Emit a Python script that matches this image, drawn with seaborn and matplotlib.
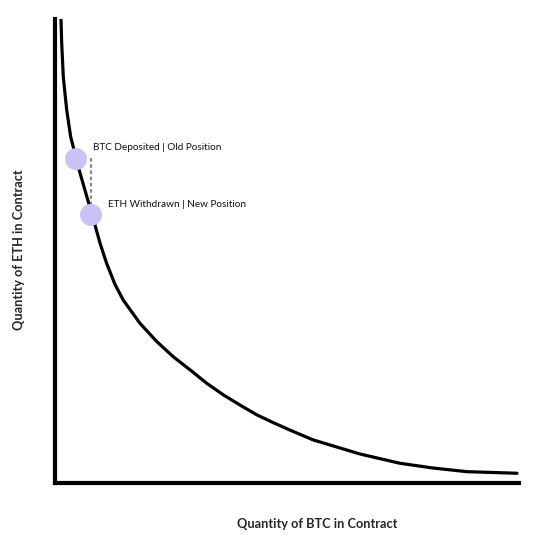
import numpy as np
import pandas as pd
import matplotlib.pyplot as plt
import seaborn as sns

# points (BTC qty, ETH qty), axes scaled 0-100
btc_qty = [1.29, 1.44, 1.79, 2.52, 3.38, 3.94, 4.53, 8.62, 9.70, 11.14, 12.93,
           14.72, 18.32, 21.92, 25.50, 29.09, 32.69, 36.27, 39.87, 43.47, 47.05,
           50.65, 55.60, 65.73, 74.35, 81.47, 88.79, 99.57]
eth_qty = [100.0, 94.8, 87.5, 80.4, 74.6, 72.4, 69.8, 55.6, 51.7, 47.3, 42.8,
           39.4, 34.4, 30.5, 27.2, 24.4, 21.5, 19.0, 16.8, 14.7, 13.0,
           11.4, 9.3, 6.25, 4.25, 3.23, 2.44, 2.1]

pos_labels = ["BTC Deposited | Old Position", "ETH Withdrawn | New Position"]
pos_btc = [4.53, 7.76]
pos_eth = [69.8, 57.8]

curve = pd.DataFrame({"btc": btc_qty, "eth": eth_qty})
pos = pd.DataFrame({"label": pos_labels, "btc": pos_btc, "eth": pos_eth})

sns.set_style("white")
plt.rcParams["font.family"] = ["Lato", "DejaVu Sans"]

fig = plt.figure(figsize=(5.41, 5.49), dpi=100)
ax = fig.add_axes([55 / 541, 1 - 483 / 549, 464 / 541, 464 / 549])

sns.lineplot(data=curve, x="btc", y="eth", ax=ax, color="black", linewidth=2.3,
             sort=False, zorder=2)
ax.plot([pos_btc[1] + 0.1] * 2, [pos_eth[0] + 0.3, pos_eth[1] + 1.5], color="#8a8a8a",
        linewidth=1.6, linestyle=(0, (1.6, 1.2)), zorder=1)
sns.scatterplot(data=pos, x="btc", y="eth", ax=ax, s=250, color="#cbc2f5",
                edgecolor="none", zorder=3, legend=False)

ax.text(pos_btc[0] + 3.6, pos_eth[0] + 2.4, pos_labels[0], fontsize=7.2,
        va="center", ha="left", color="#111111")
ax.text(pos_btc[1] + 3.6, pos_eth[1] + 2.3, pos_labels[1], fontsize=7.2,
        va="center", ha="left", color="#111111")

ax.set_xlim(0, 100)
ax.set_ylim(0, 100)
ax.set_xticks([])
ax.set_yticks([])
ax.set_xlabel("")
ax.set_ylabel("")
for s in ["top", "right"]:
    ax.spines[s].set_visible(False)
for s in ["left", "bottom"]:
    ax.spines[s].set_linewidth(3)
    ax.spines[s].set_color("black")

fig.text(317 / 541, 1 - 524 / 549, "Quantity of BTC in Contract", fontsize=9.2,
         fontweight="bold", ha="center", va="center")
fig.text(19 / 541, 1 - 250 / 549, "Quantity of ETH in Contract", fontsize=9.2,
         fontweight="bold", ha="center", va="center", rotation=90)

fig.savefig("out.png", dpi=100)
